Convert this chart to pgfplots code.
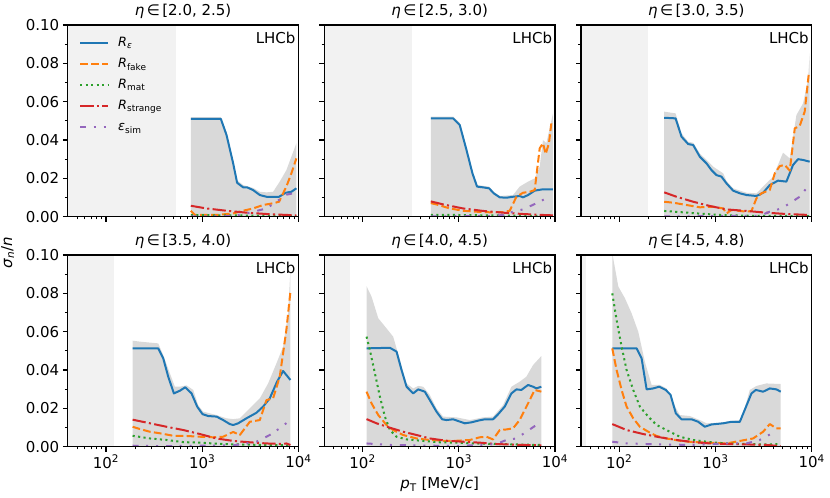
\documentclass[border=0pt]{standalone}
\usepackage{fontspec}
\setmainfont{DejaVu Sans}
\usepackage{pgfplots}
\pgfplotsset{compat=1.18}
\definecolor{c0}{HTML}{1F77B4}
\definecolor{c1}{HTML}{FF7F0E}
\definecolor{c2}{HTML}{2CA02C}
\definecolor{c3}{HTML}{D62728}
\definecolor{c4}{HTML}{9467BD}
\definecolor{bandc}{HTML}{D9D9D9}
\definecolor{exclc}{HTML}{F2F2F2}
\newcommand\ftick{\fontsize{15bp}{18bp}\selectfont}
\newcommand\fleg{\fontsize{12.8bp}{15bp}\selectfont}
\pgfplotsset{
 panel/.style={
  scale only axis, width=230.7bp, height=191.7bp, anchor=south west,
  xmin=1.60206, xmax=4, ymin=0, ymax=0.1,
  xtick={2,3,4},
  minor xtick={1.699,1.778,1.845,1.903,1.954,2.301,2.477,2.602,2.699,2.778,2.845,2.903,2.954,3.301,3.477,3.602,3.699,3.778,3.845,3.903,3.954},
  ytick={0,0.02,0.04,0.06,0.08,0.1},
  minor ytick={0.01,0.03,0.05,0.07,0.09},
  xticklabels={}, yticklabels={},
  axis on top,
  tick align=outside, tick pos=left,
  major tick length=4.9bp, minor tick length=2.8bp,
  every major tick/.append style={line width=1.1bp, black},
  every minor tick/.append style={line width=0.8bp, black},
  axis line style={line width=1.1bp, black},
  tick label style={font=\ftick},
  every axis title/.style={at={(0.5,1)}, anchor=base, yshift=9.3bp, font=\ftick},
  clip=true,
 },
 xlab/.style={xticklabels={10\textsuperscript{2},10\textsuperscript{3},10\textsuperscript{4}}},
 ylab/.style={yticklabels={0.00,0.02,0.04,0.06,0.08,0.10}},
 sRe/.style={c0, line width=2bp, solid, line join=round},
 sRf/.style={c1, line width=2bp, dash pattern=on 7.7bp off 3.3bp, line join=round},
 sRm/.style={c2, line width=2bp, dash pattern=on 2.1bp off 3.4bp, line join=round},
 sRs/.style={c3, line width=2bp, dash pattern=on 13.3bp off 3.3bp on 2.1bp off 3.3bp, line join=round},
 sEs/.style={c4, line width=2bp, dash pattern=on 6bp off 7.5bp on 2bp off 8bp on 2bp off 8bp, line join=round},
 sBand/.style={draw=none, fill=bandc, forget plot},
 sExcl/.style={draw=none, fill=exclc, forget plot},
}
\newcommand\lhcb{\node[anchor=north east, inner sep=0pt, font=\ftick] at (rel axis cs:0.988,0.965) {LHCb};}
\begin{document}
\begin{tikzpicture}
\useasboundingbox (0,0) rectangle (830bp,498bp);

% ---------------- panel 1 ----------------
\begin{axis}[panel, ylab, at={(67.7bp,281.3bp)},
 title={\textit{η}\,∈\,[2.0, 2.5)},
 legend style={at={(rel axis cs:0,1)}, anchor=north west, xshift=11.3bp, yshift=-11.7bp,
   draw=none, fill=none, font=\fleg, inner sep=0pt, row sep=8bp, column sep=9bp,
   nodes={inner sep=0pt, text height=9.5bp, text depth=3.5bp}},
 legend cell align=left,
 legend image code/.code={\draw[#1] (0bp,0bp) -- (28bp,0bp);}]
\addplot[sExcl] coordinates {(1.5,0.11) (2.731,0.11)} \closedcycle;
\addplot[sBand] coordinates {(2.882,0.0520) (3.194,0.0520) (3.253,0.0440) (3.322,0.0295) (3.363,0.0190) (3.426,0.0165) (3.529,0.0150) (3.599,0.0130) (3.668,0.0127) (3.737,0.0130) (3.806,0.0183) (3.875,0.0243) (3.927,0.0313) (3.979,0.0383)} \closedcycle;
\addplot[sRe] coordinates {(2.882,0.0510) (3.194,0.0510) (3.253,0.0426) (3.322,0.0278) (3.363,0.0177) (3.426,0.0153) (3.467,0.0153) (3.529,0.0139) (3.599,0.0113) (3.668,0.0104) (3.737,0.0104) (3.799,0.0104) (3.868,0.0125) (3.927,0.0130) (3.979,0.0148)};
\addlegendentry{\textit{R}\textsubscript{\textit{ε}}}
\addplot[sRf] coordinates {(2.882,0.0031) (2.924,0.0009) (3.045,0.0009) (3.149,0.0009) (3.322,0.0017) (3.426,0.0031) (3.529,0.0043) (3.633,0.0061) (3.737,0.0070) (3.799,0.0078) (3.841,0.0122) (3.875,0.0157) (3.927,0.0226) (3.979,0.0304)};
\addlegendentry{\textit{R}\textsubscript{fake}}
\addplot[sRm] coordinates {(2.882,0.0008) (3.322,0.0007) (3.979,0.0003)};
\addlegendentry{\textit{R}\textsubscript{mat}}
\addplot[sRs] coordinates {(2.882,0.0057) (3.045,0.0043) (3.253,0.0031) (3.460,0.0021) (3.668,0.0014) (3.841,0.0010) (3.979,0.0007)};
\addlegendentry{\textit{R}\textsubscript{strange}}
\addplot[sEs] coordinates {(2.882,0.0002) (3.322,0.0003) (3.460,0.0017) (3.668,0.0043) (3.806,0.0090) (3.875,0.0115) (3.979,0.0125)};
\addlegendentry{\textit{ε}\textsubscript{sim}}
\lhcb
\end{axis}

% ---------------- panel 2 ----------------
\begin{axis}[panel, at={(324.3bp,281.3bp)}, title={\textit{η}\,∈\,[2.5, 3.0)}]
\addplot[sExcl] coordinates {(1.5,0.11) (2.518,0.11)} \closedcycle;
\addplot[sBand] coordinates {(2.709,0.0522) (2.941,0.0522) (3.010,0.0490) (3.080,0.0360) (3.142,0.0240) (3.190,0.0165) (3.315,0.0157) (3.363,0.0130) (3.426,0.0108) (3.564,0.0113) (3.633,0.0157) (3.720,0.0183) (3.789,0.0200) (3.841,0.0261) (3.875,0.0400) (3.910,0.0383) (3.979,0.0539)} \closedcycle;
\addplot[sRe] coordinates {(2.709,0.0513) (2.941,0.0513) (3.010,0.0478) (3.080,0.0348) (3.142,0.0226) (3.190,0.0157) (3.253,0.0153) (3.315,0.0148) (3.363,0.0122) (3.426,0.0101) (3.495,0.0099) (3.564,0.0104) (3.633,0.0108) (3.668,0.0101) (3.720,0.0113) (3.789,0.0136) (3.875,0.0143) (3.979,0.0143)};
\addplot[sRf] coordinates {(2.709,0.0071) (2.768,0.0064) (2.907,0.0043) (3.045,0.0031) (3.183,0.0026) (3.322,0.0023) (3.460,0.0024) (3.529,0.0031) (3.599,0.0104) (3.668,0.0125) (3.737,0.0130) (3.789,0.0139) (3.841,0.0357) (3.875,0.0383) (3.903,0.0327) (3.937,0.0383) (3.962,0.0487) (3.979,0.0490)};
\addplot[sRm] coordinates {(2.709,0.0009) (2.976,0.0009) (3.322,0.0007) (3.979,0.0003)};
\addplot[sRs] coordinates {(2.709,0.0080) (2.837,0.0064) (3.045,0.0043) (3.253,0.0030) (3.460,0.0021) (3.668,0.0014) (3.875,0.0009) (3.979,0.0007)};
\addplot[sEs] coordinates {(2.709,0.0002) (3.322,0.0003) (3.460,0.0009) (3.564,0.0026) (3.668,0.0038) (3.806,0.0070) (3.910,0.0096)};
\lhcb
\end{axis}

% ---------------- panel 3 ----------------
\begin{axis}[panel, at={(581bp,281.3bp)}, title={\textit{η}\,∈\,[3.0, 3.5)}]
\addplot[sExcl] coordinates {(1.5,0.11) (2.303,0.11)} \closedcycle;
\addplot[sBand] coordinates {(2.467,0.0548) (2.585,0.0539) (2.647,0.0435) (2.716,0.0391) (2.768,0.0386) (2.837,0.0330) (2.907,0.0296) (2.976,0.0261) (3.080,0.0226) (3.114,0.0187) (3.183,0.0148) (3.322,0.0125) (3.426,0.0122) (3.495,0.0157) (3.599,0.0209) (3.702,0.0334) (3.772,0.0304) (3.841,0.0530) (3.910,0.0591) (3.962,0.0713) (3.979,0.0852)} \closedcycle;
\addplot[sRe] coordinates {(2.467,0.0516) (2.585,0.0513) (2.647,0.0417) (2.716,0.0379) (2.768,0.0374) (2.837,0.0313) (2.907,0.0278) (2.958,0.0243) (3.010,0.0217) (3.062,0.0209) (3.114,0.0174) (3.183,0.0136) (3.253,0.0122) (3.322,0.0113) (3.426,0.0108) (3.495,0.0125) (3.564,0.0165) (3.650,0.0188) (3.737,0.0183) (3.806,0.0270) (3.858,0.0300) (3.910,0.0296) (3.979,0.0287)};
\addplot[sRf] coordinates {(2.467,0.0078) (2.561,0.0073) (2.699,0.0061) (2.837,0.0049) (2.976,0.0052) (3.080,0.0043) (3.114,0.0017) (3.166,0.0035) (3.253,0.0030) (3.322,0.0026) (3.374,0.0030) (3.426,0.0096) (3.477,0.0122) (3.564,0.0139) (3.616,0.0226) (3.668,0.0264) (3.720,0.0270) (3.772,0.0240) (3.824,0.0461) (3.875,0.0473) (3.927,0.0548) (3.972,0.0757)};
\addplot[sRm] coordinates {(2.467,0.0030) (2.630,0.0024) (2.837,0.0016) (3.045,0.0009) (3.322,0.0005) (3.979,0.0003)};
\addplot[sRs] coordinates {(2.467,0.0127) (2.595,0.0104) (2.768,0.0078) (2.941,0.0056) (3.114,0.0038) (3.322,0.0030) (3.529,0.0021) (3.737,0.0014) (3.979,0.0009)};
\addplot[sEs] coordinates {(2.467,0.0001) (3.460,0.0005) (3.564,0.0026) (3.685,0.0043) (3.772,0.0070) (3.875,0.0104) (3.972,0.0165)};
\lhcb
\end{axis}

% ---------------- panel 4 ----------------
\begin{axis}[panel, xlab, ylab, at={(67.7bp,51.3bp)}, title={\textit{η}\,∈\,[3.5, 4.0)}]
\addplot[sExcl] coordinates {(1.5,0.11) (2.086,0.11)} \closedcycle;
\addplot[sBand] coordinates {(2.277,0.0553) (2.353,0.0548) (2.543,0.0539) (2.595,0.0478) (2.664,0.0383) (2.716,0.0313) (2.768,0.0313) (2.837,0.0320) (2.907,0.0296) (2.958,0.0217) (3.010,0.0183) (3.149,0.0165) (3.253,0.0148) (3.322,0.0144) (3.391,0.0148) (3.495,0.0200) (3.599,0.0252) (3.685,0.0330) (3.772,0.0435) (3.841,0.0522) (3.893,0.0696) (3.917,0.0922)} \closedcycle;
\addplot[sRe] coordinates {(2.277,0.0513) (2.543,0.0513) (2.595,0.0461) (2.647,0.0365) (2.706,0.0278) (2.768,0.0292) (2.824,0.0310) (2.889,0.0278) (2.948,0.0209) (3.003,0.0170) (3.062,0.0160) (3.149,0.0157) (3.218,0.0139) (3.287,0.0118) (3.322,0.0113) (3.374,0.0122) (3.460,0.0148) (3.564,0.0177) (3.633,0.0209) (3.702,0.0252) (3.778,0.0339) (3.841,0.0395) (3.875,0.0374) (3.917,0.0348)};
\addplot[sRf] coordinates {(2.277,0.0104) (2.353,0.0092) (2.457,0.0078) (2.560,0.0070) (2.699,0.0057) (2.837,0.0056) (2.976,0.0052) (3.114,0.0049) (3.218,0.0052) (3.322,0.0077) (3.391,0.0061) (3.495,0.0130) (3.599,0.0139) (3.668,0.0243) (3.737,0.0252) (3.806,0.0365) (3.875,0.0609) (3.917,0.0809)};
\addplot[sRm] coordinates {(2.277,0.0057) (2.457,0.0043) (2.630,0.0035) (2.803,0.0024) (2.976,0.0021) (3.149,0.0016) (3.322,0.0012) (3.668,0.0009) (3.917,0.0007)};
\addplot[sRs] coordinates {(2.277,0.0141) (2.457,0.0122) (2.630,0.0104) (2.803,0.0087) (2.976,0.0066) (3.149,0.0043) (3.322,0.0030) (3.495,0.0023) (3.668,0.0017) (3.841,0.0014) (3.875,0.0017) (3.917,0.0009)};
\addplot[sEs] coordinates {(2.277,0.0005) (2.630,0.0003) (3.322,0.0007) (3.460,0.0017) (3.564,0.0026) (3.702,0.0061) (3.806,0.0096) (3.893,0.0130)};
\lhcb
\end{axis}

% ---------------- panel 5 ----------------
\begin{axis}[panel, xlab, at={(324.3bp,51.3bp)}, title={\textit{η}\,∈\,[4.0, 4.5)}]
\addplot[sExcl] coordinates {(1.5,0.11) (1.869,0.11)} \closedcycle;
\addplot[sBand] coordinates {(2.041,0.0837) (2.093,0.0783) (2.163,0.0670) (2.249,0.0617) (2.318,0.0574) (2.388,0.0452) (2.457,0.0330) (2.526,0.0304) (2.578,0.0317) (2.630,0.0313) (2.699,0.0270) (2.768,0.0200) (2.837,0.0157) (2.976,0.0153) (3.114,0.0139) (3.253,0.0153) (3.356,0.0157) (3.460,0.0217) (3.547,0.0313) (3.633,0.0339) (3.702,0.0365) (3.772,0.0426) (3.858,0.0473)} \closedcycle;
\addplot[sRe] coordinates {(2.041,0.0513) (2.284,0.0516) (2.353,0.0496) (2.405,0.0400) (2.457,0.0313) (2.526,0.0278) (2.578,0.0299) (2.647,0.0287) (2.699,0.0243) (2.768,0.0183) (2.827,0.0143) (2.872,0.0139) (2.941,0.0143) (2.993,0.0134) (3.062,0.0122) (3.131,0.0127) (3.201,0.0136) (3.270,0.0143) (3.356,0.0143) (3.408,0.0169) (3.477,0.0209) (3.547,0.0278) (3.599,0.0299) (3.650,0.0296) (3.720,0.0322) (3.772,0.0313) (3.806,0.0304) (3.858,0.0313)};
\addplot[sRf] coordinates {(2.041,0.0287) (2.093,0.0226) (2.163,0.0165) (2.249,0.0113) (2.318,0.0087) (2.422,0.0061) (2.561,0.0043) (2.699,0.0035) (2.837,0.0031) (2.976,0.0031) (3.114,0.0035) (3.218,0.0049) (3.287,0.0052) (3.356,0.0038) (3.426,0.0087) (3.495,0.0090) (3.564,0.0096) (3.633,0.0139) (3.685,0.0191) (3.737,0.0243) (3.789,0.0296) (3.858,0.0287)};
\addplot[sRm] coordinates {(2.041,0.0574) (2.076,0.0504) (2.128,0.0383) (2.180,0.0261) (2.232,0.0157) (2.284,0.0087) (2.353,0.0052) (2.457,0.0038) (2.630,0.0030) (2.803,0.0023) (2.976,0.0021) (3.183,0.0017) (3.391,0.0014) (3.599,0.0012) (3.858,0.0009)};
\addplot[sRs] coordinates {(2.041,0.0144) (2.145,0.0122) (2.284,0.0099) (2.422,0.0078) (2.561,0.0061) (2.699,0.0043) (2.872,0.0031) (3.045,0.0026) (3.218,0.0021) (3.391,0.0014) (3.599,0.0010) (3.858,0.0007)};
\addplot[sEs] coordinates {(2.041,0.0017) (2.284,0.0009) (2.976,0.0003) (3.391,0.0014) (3.495,0.0035) (3.599,0.0043) (3.702,0.0078) (3.806,0.0113)};
\lhcb
\end{axis}

% ---------------- panel 6 ----------------
\begin{axis}[panel, xlab, at={(581bp,51.3bp)}, title={\textit{η}\,∈\,[4.5, 4.8)}]
\addplot[sExcl] coordinates {(1.5,0.11) (1.652,0.11)} \closedcycle;
\addplot[sBand] coordinates {(1.927,0.1010) (1.990,0.0835) (2.059,0.0774) (2.128,0.0696) (2.197,0.0600) (2.266,0.0443) (2.336,0.0322) (2.422,0.0322) (2.491,0.0304) (2.561,0.0226) (2.630,0.0165) (2.734,0.0160) (2.837,0.0139) (2.907,0.0122) (3.045,0.0125) (3.183,0.0136) (3.270,0.0139) (3.356,0.0296) (3.426,0.0317) (3.529,0.0330) (3.678,0.0327)} \closedcycle;
\addplot[sRe] coordinates {(1.927,0.0513) (2.180,0.0513) (2.232,0.0461) (2.284,0.0299) (2.353,0.0304) (2.415,0.0313) (2.484,0.0296) (2.533,0.0270) (2.588,0.0174) (2.647,0.0143) (2.751,0.0143) (2.820,0.0130) (2.889,0.0104) (2.958,0.0116) (3.080,0.0122) (3.166,0.0130) (3.253,0.0130) (3.374,0.0278) (3.419,0.0296) (3.495,0.0287) (3.564,0.0304) (3.633,0.0299) (3.678,0.0287)};
\addplot[sRf] coordinates {(1.927,0.0513) (1.972,0.0400) (2.024,0.0296) (2.076,0.0209) (2.145,0.0148) (2.214,0.0104) (2.301,0.0078) (2.388,0.0056) (2.491,0.0043) (2.630,0.0031) (2.768,0.0024) (2.941,0.0021) (3.114,0.0017) (3.253,0.0030) (3.391,0.0043) (3.495,0.0078) (3.564,0.0118) (3.633,0.0096) (3.678,0.0096)};
\addplot[sRm] coordinates {(1.927,0.0800) (1.972,0.0661) (2.024,0.0522) (2.076,0.0400) (2.145,0.0296) (2.214,0.0209) (2.301,0.0157) (2.388,0.0113) (2.491,0.0087) (2.630,0.0052) (2.768,0.0035) (2.941,0.0024) (3.114,0.0017) (3.322,0.0014) (3.529,0.0012) (3.678,0.0014)};
\addplot[sRs] coordinates {(1.927,0.0118) (2.076,0.0087) (2.249,0.0066) (2.422,0.0049) (2.595,0.0035) (2.768,0.0024) (2.941,0.0017) (3.114,0.0014) (3.322,0.0012) (3.529,0.0009) (3.678,0.0003)};
\addplot[sEs] coordinates {(1.927,0.0026) (2.076,0.0017) (2.422,0.0012) (2.768,0.0009) (3.114,0.0017) (3.322,0.0017) (3.460,0.0035) (3.599,0.0073)};
\lhcb
\end{axis}

\node[rotate=90, anchor=base, font=\ftick] at (12bp,245.5bp) {\textit{σ}\textsubscript{\textit{n}}/\textit{n}};
\node[anchor=base, font=\ftick] at (439.7bp,9.5bp) {\textit{p}\textsubscript{T} [MeV/\textit{c}]};
\end{tikzpicture}
\end{document}
